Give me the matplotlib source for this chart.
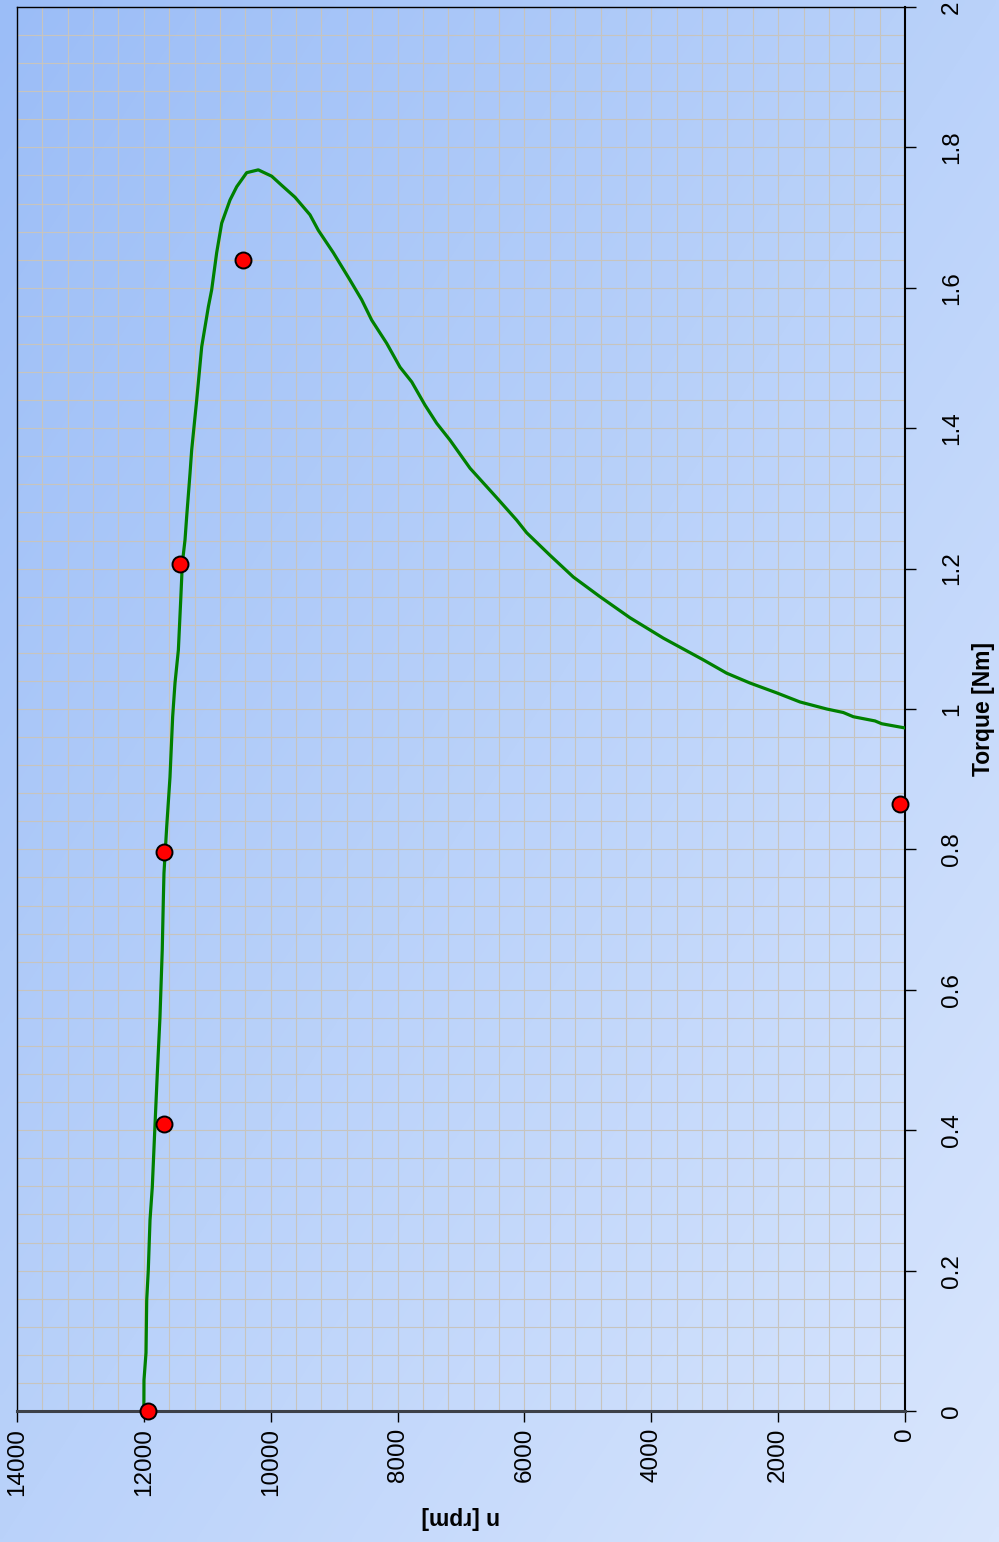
import numpy as np
import matplotlib
matplotlib.use("Agg")
import matplotlib.pyplot as plt
from matplotlib.ticker import MultipleLocator, FuncFormatter
from matplotlib.colors import LinearSegmentedColormap

plt.rcParams['font.family'] = ['Liberation Sans', 'DejaVu Sans']

# measured torque-speed curve (torque in Nm, speed in rpm)
torque_curve = [0.000, 0.044, 0.083, 0.158, 0.201, 0.272, 0.319, 0.396, 0.481, 0.561,
                0.657, 0.728, 0.766, 0.832, 0.903, 0.989, 1.037, 1.084, 1.155, 1.208,
                1.241, 1.274, 1.336, 1.369, 1.440, 1.516, 1.573, 1.597, 1.650, 1.692,
                1.725, 1.744, 1.764, 1.768, 1.759, 1.746, 1.729, 1.704, 1.682, 1.650,
                1.611, 1.583, 1.554, 1.521, 1.487, 1.466, 1.433, 1.407, 1.383, 1.343,
                1.301, 1.269, 1.251, 1.219, 1.188, 1.160, 1.130, 1.101, 1.070, 1.051,
                1.037, 1.023, 1.010, 1.000, 0.995, 0.989, 0.983, 0.979, 0.973]
speed_curve = [12000, 11998, 11966, 11955, 11930, 11903, 11867, 11830, 11788, 11746,
               11710, 11693, 11683, 11640, 11588, 11546, 11509, 11456, 11419, 11393,
               11351, 11325, 11272, 11246, 11167, 11088, 10983, 10931, 10852, 10773,
               10642, 10536, 10379, 10196, 9985, 9827, 9617, 9381, 9250, 9013,
               8750, 8566, 8408, 8172, 7962, 7777, 7568, 7383, 7173, 6858,
               6437, 6122, 5964, 5597, 5229, 4809, 4336, 3811, 3180, 2811,
               2444, 2023, 1655, 1234, 973, 815, 473, 367, 0]

# single measured points
torque_points = [0.0, 0.409, 0.796, 1.207, 1.640, 0.865]
speed_points = [11930, 11683, 11683, 11430, 10437, 80]

fig = plt.figure(figsize=(9.99, 15.42), dpi=100)

# diagonal blue gradient behind everything
bg = fig.add_axes([0, 0, 1, 1], zorder=-10)
h, w = 300, 200
yy, xx = np.mgrid[0:h, 0:w]
t = (xx / (w - 1) + yy / (h - 1)) / 2
cmap = LinearSegmentedColormap.from_list('bg', ['#9bbdf7', '#bad2fa', '#d9e6fd'])
bg.imshow(t, cmap=cmap, aspect='auto', extent=[0, 1, 0, 1], interpolation='bilinear')
bg.axis('off')

ax = fig.add_axes([17 / 999, 1 - 1411 / 1542, 888 / 999, 1404 / 1542])
ax.set_facecolor('none')

ax.plot(speed_curve, torque_curve, color='#008000', lw=2.3, zorder=3)
ax.plot(speed_points, torque_points, 'o', ms=11.5, mfc='#ff0000', mec='black', mew=1.4,
        zorder=4, clip_on=False)

ax.set_xlim(14000, 0)
ax.set_ylim(0, 2)

ax.xaxis.set_major_locator(MultipleLocator(2000))
ax.xaxis.set_minor_locator(MultipleLocator(400))
ax.yaxis.set_major_locator(MultipleLocator(0.2))
ax.yaxis.set_minor_locator(MultipleLocator(0.04))
ax.yaxis.set_major_formatter(FuncFormatter(lambda v, p: '%g' % round(v, 2)))
ax.xaxis.set_major_formatter(FuncFormatter(lambda v, p: '%d' % v))

ax.grid(True, which='both', color='#c7c4be', lw=0.8, zorder=0)
ax.set_axisbelow(True)

ax.yaxis.tick_right()
ax.tick_params(which='minor', length=0)
ax.tick_params(which='major', length=8, width=1, color='black', labelsize=17.5)
ax.tick_params(axis='x', pad=4)
ax.tick_params(axis='y', pad=18)
for lab in ax.get_xticklabels():
    lab.set_rotation(90)
for lab in ax.get_yticklabels():
    lab.set_rotation(90)
    lab.set_va('center')

for s in ['left', 'top']:
    ax.spines[s].set_linewidth(1.0)
    ax.spines[s].set_color('black')
ax.spines['right'].set_linewidth(1.5)
ax.spines['right'].set_color('black')
ax.spines['bottom'].set_linewidth(2.2)
ax.spines['bottom'].set_color('#3c4048')

ax.set_xlabel('n [rpm]', fontsize=16.5, fontweight='bold', rotation=180, va='center')
ax.xaxis.set_label_coords(0.5, -0.0755)
ax.yaxis.set_label_position('right')
ax.set_ylabel('Torque [Nm]', fontsize=16.5, fontweight='bold', rotation=90,
              ha='center', va='center')
ax.yaxis.set_label_coords(1.088, 0.5)

fig.savefig('out.png', dpi=100)
